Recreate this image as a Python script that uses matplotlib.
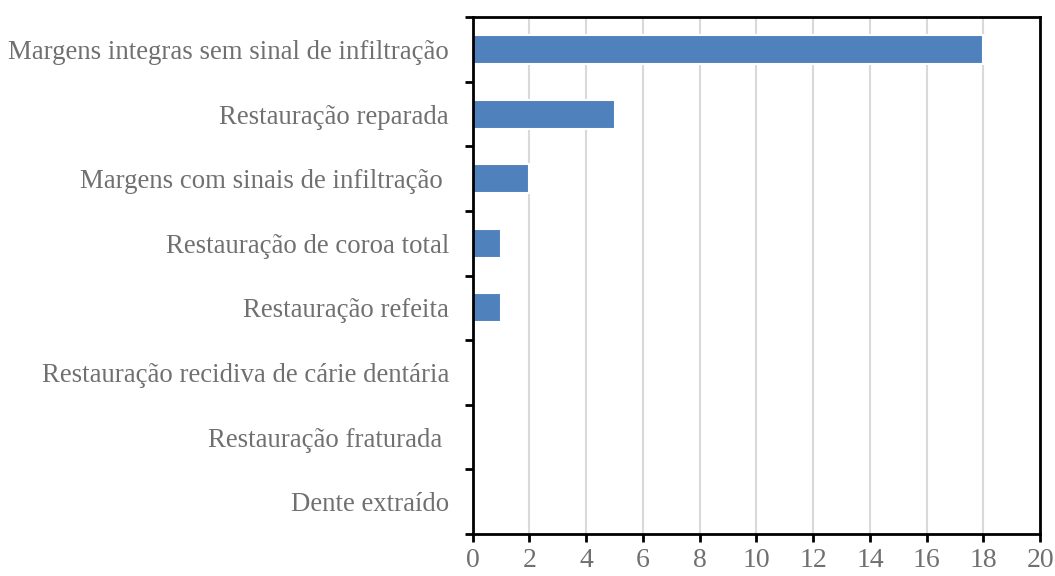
import matplotlib.pyplot as plt
import numpy as np

categories = [
    "Margens integras sem sinal de infiltração",
    "Restauração reparada",
    "Margens com sinais de infiltração ",
    "Restauração de coroa total",
    "Restauração refeita",
    "Restauração recidiva de cárie dentária",
    "Restauração fraturada ",
    "Dente extraído",
]
values = [18, 5, 2, 1, 1, 0, 0, 0]
xticks = list(range(0, 21, 2))

plt.rcParams["font.family"] = ["Liberation Serif", "DejaVu Serif"]

fig = plt.figure(figsize=(10.55, 5.76), dpi=100)
ax = fig.add_axes([0.448, 0.073, 0.538, 0.897])

y = np.arange(len(categories))
ax.barh(y, values, height=0.45, color="#4f81bd", edgecolor="white",
        linewidth=1.5, zorder=3)

ax.set_ylim(len(categories) - 0.5, -0.5)
ax.set_xlim(0, 20)
ax.set_xticks(xticks)
ax.set_yticks(y)
ax.set_yticklabels(categories)
ax.set_yticks(np.arange(-0.5, len(categories)), minor=True)

ax.tick_params(axis="y", which="major", length=0, pad=17, labelsize=19.3,
               labelcolor="#707070")
ax.tick_params(axis="y", which="minor", length=6, width=2, color="black",
               direction="out")
ax.tick_params(axis="x", which="major", length=6, width=2, color="black",
               direction="out", labelsize=20, labelcolor="#707070", pad=4)

ax.grid(axis="x", color="#d9d9d9", linewidth=1.5, zorder=0)
ax.set_axisbelow(True)
for s in ax.spines.values():
    s.set_linewidth(2)
    s.set_color("black")
    s.set_zorder(5)

fig.savefig("out.png", dpi=100)
